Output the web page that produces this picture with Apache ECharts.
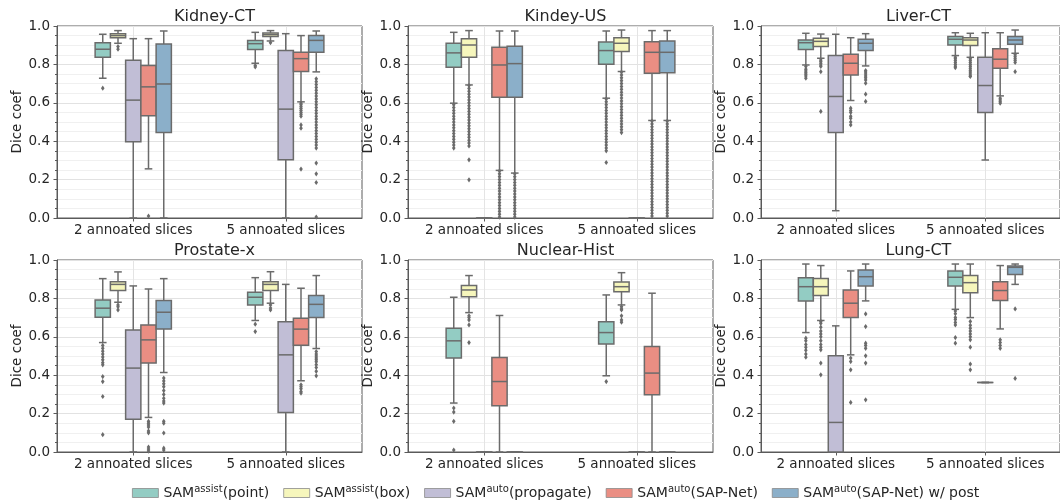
<!DOCTYPE html>
<html><head><meta charset="utf-8">
<script src="https://cdn.jsdelivr.net/npm/echarts@6/dist/echarts.min.js"></script>
<style>html,body{margin:0;padding:0;background:#fff}#c{width:1060px;height:501px}</style>
</head><body><div id="c"></div>
<script>
// ---------- data ----------
const categories = ['2 annoated slices', '5 annoated slices'];
const seriesNames = ['point', 'box', 'propagate', 'SAP-Net', 'SAP-Net w/ post'];
const legendParts = [['assist', '(point)'], ['assist', '(box)'], ['auto', '(propagate)'], ['auto', '(SAP-Net)'], ['auto', '(SAP-Net) w/ post']];
const panelTitles = ['Kidney-CT', 'Kindey-US', 'Liver-CT', 'Prostate-x', 'Nuclear-Hist', 'Lung-CT'];

// boxes[series][category] = [lowWhisker, Q1, median, Q3, highWhisker]
const kidneyCTBoxes = [
  [[0.728, 0.837, 0.879, 0.913, 0.957], [0.806, 0.877, 0.908, 0.924, 0.967]],
  [[0.910, 0.939, 0.950, 0.960, 0.976], [0.922, 0.945, 0.955, 0.964, 0.976]],
  [[0, 0.397, 0.614, 0.821, 0.934], [0, 0.303, 0.567, 0.872, 0.960]],
  [[0.256, 0.532, 0.683, 0.794, 0.934], [0.605, 0.763, 0.830, 0.863, 0.950]],
  [[0, 0.445, 0.698, 0.906, 0.974], [0.761, 0.863, 0.925, 0.951, 0.974]]
];
const kidneyCTOutliers = [
  [[0.676], [0.794, 0.787]],
  [[0.893, 0.879], [0.913]],
  [[], []],
  [[0.01], [0.598, 0.59, 0.58, 0.57, 0.56, 0.55, 0.54, 0.53, 0.485, 0.468, 0.255]],
  [[], [0.725, 0.71, 0.695, 0.68, 0.665, 0.65, 0.635, 0.62, 0.605, 0.59, 0.575, 0.56, 0.545, 0.53, 0.515, 0.50, 0.485, 0.47, 0.455, 0.44, 0.425, 0.41, 0.395, 0.38, 0.364, 0.286, 0.23, 0.185, 0.005]]
];

const kidneyUSBoxes = [
  [[0.598, 0.785, 0.860, 0.910, 0.967], [0.624, 0.801, 0.872, 0.917, 0.974]],
  [[0.693, 0.837, 0.901, 0.934, 0.976], [0.763, 0.867, 0.910, 0.939, 0.979]],
  [[0, 0, 0, 0, 0], [0, 0, 0, 0, 0]],
  [[0.248, 0.629, 0.797, 0.889, 0.974], [0.508, 0.754, 0.863, 0.918, 0.976]],
  [[0.234, 0.629, 0.804, 0.894, 0.974], [0.508, 0.756, 0.863, 0.922, 0.976]]
];
const kidneyUSOutliers = [
  [[0.59, 0.575, 0.56, 0.545, 0.53, 0.515, 0.50, 0.485, 0.47, 0.455, 0.44, 0.425, 0.41, 0.395, 0.38, 0.364],
   [0.62, 0.605, 0.59, 0.575, 0.56, 0.545, 0.53, 0.515, 0.50, 0.485, 0.47, 0.455, 0.44, 0.425, 0.41, 0.395, 0.38, 0.365, 0.35, 0.289]],
  [[0.69, 0.675, 0.66, 0.645, 0.63, 0.615, 0.60, 0.585, 0.57, 0.555, 0.54, 0.525, 0.51, 0.495, 0.48, 0.465, 0.45, 0.435, 0.42, 0.405, 0.39, 0.375, 0.303, 0.199],
   [0.76, 0.745, 0.73, 0.715, 0.70, 0.685, 0.67, 0.655, 0.64, 0.625, 0.61, 0.595, 0.58, 0.565, 0.55, 0.535, 0.52, 0.505, 0.49, 0.475, 0.46, 0.445]],
  [[], []],
  [[0.245, 0.23, 0.215, 0.20, 0.185, 0.17, 0.155, 0.14, 0.125, 0.11, 0.095, 0.08, 0.065, 0.05, 0.035, 0.02, 0.005],
   [0.505, 0.49, 0.475, 0.46, 0.445, 0.43, 0.415, 0.40, 0.385, 0.37, 0.355, 0.34, 0.325, 0.31, 0.295, 0.28, 0.265, 0.25, 0.235, 0.22, 0.205, 0.19, 0.175, 0.16, 0.145, 0.13, 0.115, 0.10, 0.085, 0.07, 0.055, 0.04, 0.025, 0.01]],
  [[0.23, 0.215, 0.20, 0.185, 0.17, 0.155, 0.14, 0.125, 0.11, 0.095, 0.08, 0.065, 0.05, 0.035, 0.02, 0.005],
   [0.505, 0.49, 0.475, 0.46, 0.445, 0.43, 0.415, 0.40, 0.385, 0.37, 0.355, 0.34, 0.325, 0.31, 0.295, 0.28, 0.265, 0.25, 0.235, 0.22, 0.205, 0.19, 0.175, 0.16, 0.145, 0.13, 0.115, 0.10, 0.085, 0.07, 0.055, 0.04, 0.025, 0.01]]
];

const liverCTBoxes = [
  [[0.797, 0.877, 0.913, 0.927, 0.962], [0.846, 0.901, 0.931, 0.945, 0.965]],
  [[0.832, 0.893, 0.920, 0.936, 0.958], [0.837, 0.899, 0.927, 0.939, 0.962]],
  [[0.038, 0.445, 0.633, 0.846, 0.957], [0.302, 0.549, 0.690, 0.837, 0.965]],
  [[0.612, 0.745, 0.806, 0.853, 0.939], [0.636, 0.780, 0.827, 0.882, 0.965]],
  [[0.792, 0.872, 0.910, 0.931, 0.960], [0.858, 0.905, 0.927, 0.945, 0.979]]
];
const liverCTOutliers = [
  [[0.789, 0.775, 0.766, 0.757, 0.749, 0.740, 0.728], [0.837, 0.83, 0.82, 0.81, 0.80, 0.79, 0.783]],
  [[0.823, 0.815, 0.806, 0.797, 0.789, 0.762, 0.555], [0.830, 0.82, 0.81, 0.80, 0.79, 0.78, 0.77, 0.76, 0.75, 0.74, 0.737]],
  [[], []],
  [[0.572, 0.56, 0.55, 0.53, 0.52, 0.50, 0.485], [0.624, 0.615, 0.605, 0.598]],
  [[0.768, 0.76, 0.75, 0.74, 0.73, 0.719, 0.702, 0.645, 0.607], [0.85, 0.84, 0.83, 0.82, 0.81, 0.762]]
];

const prostateBoxes = [
  [[0.570, 0.702, 0.749, 0.792, 0.903], [0.685, 0.766, 0.806, 0.832, 0.908]],
  [[0.780, 0.841, 0.873, 0.887, 0.938], [0.775, 0.841, 0.873, 0.887, 0.939]],
  [[0, 0.17, 0.437, 0.636, 0.865], [0, 0.206, 0.506, 0.679, 0.873]],
  [[0.18, 0.463, 0.584, 0.662, 0.849], [0.371, 0.556, 0.640, 0.697, 0.853]],
  [[0.414, 0.640, 0.728, 0.789, 0.903], [0.539, 0.700, 0.769, 0.815, 0.919]]
];
const prostateOutliers = [
  [[0.555, 0.54, 0.525, 0.51, 0.495, 0.48, 0.465, 0.454, 0.393, 0.367, 0.289, 0.09], [0.666, 0.627]],
  [[0.766, 0.757, 0.740], [0.766, 0.75, 0.74]],
  [[], []],
  [[0.16, 0.15, 0.14, 0.13, 0.11, 0.10, 0.026, 0.015, 0.005], [0.35, 0.34, 0.33, 0.315, 0.307]],
  [[0.385, 0.37, 0.355, 0.34, 0.32, 0.30, 0.28, 0.265, 0.255, 0.16, 0.15, 0.099, 0.02, 0.01], [0.523, 0.51, 0.50, 0.49, 0.48, 0.47, 0.455, 0.44, 0.42, 0.397]]
];

const nuclearBoxes = [
  [[0.255, 0.489, 0.579, 0.645, 0.806], [0.397, 0.562, 0.622, 0.679, 0.818]],
  [[0.726, 0.809, 0.844, 0.867, 0.919], [0.766, 0.835, 0.861, 0.886, 0.934]],
  [[0, 0, 0, 0, 0], [0, 0, 0, 0, 0]],
  [[0, 0.241, 0.367, 0.492, 0.711], [0, 0.298, 0.411, 0.549, 0.827]],
  [[0, 0, 0, 0, 0], [0, 0, 0, 0, 0]]
];
const nuclearOutliers = [
  [[0.229, 0.208, 0.16, 0.01], [0.367]],
  [[0.709, 0.70, 0.688, 0.662, 0.570], [0.757, 0.745, 0.74, 0.709, 0.688, 0.676]],
  [[], []],
  [[], []],
  [[], []]
];

const lungCTBoxes = [
  [[0.622, 0.787, 0.861, 0.908, 0.979], [0.743, 0.865, 0.910, 0.943, 0.979]],
  [[0.685, 0.815, 0.861, 0.903, 0.971], [0.700, 0.830, 0.882, 0.919, 0.979]],
  [[0, 0, 0.154, 0.501, 0.657], [0.362, 0.362, 0.362, 0.362, 0.362]],
  [[0.506, 0.700, 0.775, 0.844, 0.943], [0.641, 0.789, 0.841, 0.887, 0.971]],
  [[0.787, 0.865, 0.913, 0.948, 0.979], [0.873, 0.925, 0.962, 0.969, 0.979]]
];
const lungCTOutliers = [
  [[0.593, 0.58, 0.56, 0.545, 0.53, 0.51, 0.494], [0.735, 0.72, 0.70, 0.69, 0.675, 0.662, 0.596, 0.567]],
  [[0.68, 0.67, 0.65, 0.63, 0.615, 0.60, 0.58, 0.56, 0.545, 0.532, 0.463, 0.402], [0.68, 0.66, 0.645, 0.63, 0.615, 0.60, 0.584, 0.546, 0.458, 0.428]],
  [[], []],
  [[0.489, 0.471, 0.428, 0.258], [0.584, 0.57, 0.555, 0.54]],
  [[0.719, 0.653, 0.567, 0.555, 0.54, 0.501, 0.463, 0.272], [0.745, 0.383]]
];

const panelBoxes = [kidneyCTBoxes, kidneyUSBoxes, liverCTBoxes, prostateBoxes, nuclearBoxes, lungCTBoxes];
const panelOutliers = [kidneyCTOutliers, kidneyUSOutliers, liverCTOutliers, prostateOutliers, nuclearOutliers, lungCTOutliers];

// ---------- style ----------
const colors = ['#93ccc3', '#f6f6bc', '#c1bed6', '#ea8e83', '#8bafc9'];
const LINE = '#6b6b6b';
const FONT = 'DejaVu Sans';
const TXT = '#262626';
const gridLefts = [57, 408, 761];
const gridTops = [26, 260];
const GW = 305, GH = 192;

const grids = [], xAxes = [], yAxes = [], titles = [], series = [];

function makeRender(p, k) {
  return function (params, api) {
    const ci = api.value(0);
    const band = api.size([1, 0])[0];
    const bw = band * 0.1;
    const cx = api.coord([ci, 0])[0] + (k - 2) * bw;
    const yl = api.coord([ci, api.value(1)])[1];
    const y1 = api.coord([ci, api.value(2)])[1];
    const ym = api.coord([ci, api.value(3)])[1];
    const y3 = api.coord([ci, api.value(4)])[1];
    const yh = api.coord([ci, api.value(5)])[1];
    const ls = { stroke: LINE, lineWidth: 1.5 };
    const ch = [];
    ch.push({ type: 'line', shape: { x1: cx, y1: y1, x2: cx, y2: yl }, style: ls });
    ch.push({ type: 'line', shape: { x1: cx, y1: y3, x2: cx, y2: yh }, style: ls });
    ch.push({ type: 'line', shape: { x1: cx - bw / 4, y1: yl, x2: cx + bw / 4, y2: yl }, style: ls });
    ch.push({ type: 'line', shape: { x1: cx - bw / 4, y1: yh, x2: cx + bw / 4, y2: yh }, style: ls });
    ch.push({ type: 'rect', shape: { x: cx - bw / 2, y: y3, width: bw, height: Math.max(y1 - y3, 0.01) }, style: { fill: colors[k], stroke: LINE, lineWidth: 1.5 } });
    ch.push({ type: 'line', shape: { x1: cx - bw / 2, y1: ym, x2: cx + bw / 2, y2: ym }, style: ls });
    (panelOutliers[p][k][ci] || []).forEach(function (v) {
      const y = api.coord([ci, v])[1];
      ch.push({ type: 'polygon', shape: { points: [[cx, y - 2.6], [cx + 1.8, y], [cx, y + 2.6], [cx - 1.8, y]] }, style: { fill: LINE } });
    });
    return { type: 'group', children: ch };
  };
}

for (let p = 0; p < 6; p++) {
  const col = p % 3, row = Math.floor(p / 3);
  grids.push({ left: gridLefts[col], top: gridTops[row], width: GW, height: GH, show: true, borderColor: '#5a5a5a', borderWidth: 1, backgroundColor: 'transparent' });
  xAxes.push({
    gridIndex: p, type: 'category', data: categories,
    axisLine: { show: true, lineStyle: { color: '#5a5a5a', width: 1 } },
    axisTick: { show: true, interval: 0, alignWithLabel: true, length: 3.5, lineStyle: { color: '#5a5a5a' } },
    axisLabel: { interval: 0, fontSize: 13.5, color: TXT, margin: 5, fontFamily: FONT, hideOverlap: false },
    splitLine: { show: true, interval: 0, alignWithLabel: true, lineStyle: { color: '#e4e4e4', width: 1 } }
  });
  yAxes.push({
    gridIndex: p, type: 'value', min: 0, max: 1, interval: 0.2,
    name: 'Dice coef', nameLocation: 'middle', nameGap: 32,
    nameTextStyle: { fontSize: 13.5, color: TXT, fontFamily: FONT },
    axisLine: { show: true, lineStyle: { color: '#5a5a5a', width: 1 } },
    axisTick: { show: true, length: 3.5, lineStyle: { color: '#5a5a5a' } },
    minorTick: { show: true, splitNumber: 4, length: 2, lineStyle: { color: '#5a5a5a' } },
    axisLabel: { fontSize: 13.5, color: TXT, margin: 7, fontFamily: FONT, formatter: function (v) { return v.toFixed(1); } },
    splitLine: { show: true, lineStyle: { color: '#e2e2e2', width: 1 } },
    minorSplitLine: { show: true, lineStyle: { color: '#f0f0f0', width: 1 } }
  });
  titles.push({
    text: panelTitles[p], left: gridLefts[col] + GW / 2, top: row === 0 ? 4 : 238, textAlign: 'center',
    textStyle: { fontSize: 16, fontWeight: 'normal', color: TXT, fontFamily: FONT }
  });
  for (let k = 0; k < 5; k++) {
    const boxes = panelBoxes[p][k];
    series.push({
      type: 'custom', name: seriesNames[k], xAxisIndex: p, yAxisIndex: p,
      itemStyle: { color: colors[k] },
      renderItem: makeRender(p, k),
      encode: { x: 0, y: [1, 2, 3, 4, 5] },
      clip: false,
      data: boxes.map(function (b, ci) { return [ci].concat(b); })
    });
  }
}

const chart = echarts.init(document.getElementById('c'), null, { renderer: 'canvas' });
chart.setOption({
  animation: false,
  backgroundColor: '#fff',
  title: titles,
  grid: grids,
  xAxis: xAxes,
  yAxis: yAxes,
  legend: {
    data: seriesNames, left: 127, top: 479, icon: 'rect', itemWidth: 26, itemHeight: 9, itemGap: 14,
    itemStyle: { borderColor: '#8a8a8a', borderWidth: 0.8 },
    formatter: function (name) {
      const i = seriesNames.indexOf(name);
      return '{m|SAM}{s|' + legendParts[i][0] + '}{m|' + legendParts[i][1] + '}';
    },
    textStyle: {
      rich: {
        m: { fontSize: 14, fontFamily: FONT, color: TXT, lineHeight: 18 },
        s: { fontSize: 10, fontFamily: FONT, color: TXT, lineHeight: 12, verticalAlign: 'top' }
      }
    }
  },
  series: series
});
</script>
</body></html>
